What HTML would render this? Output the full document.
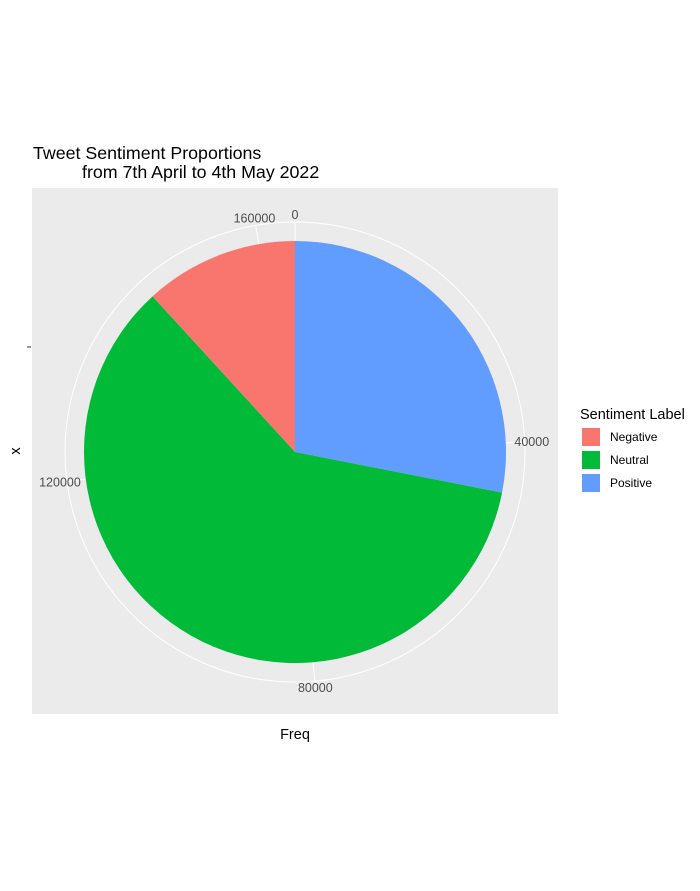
<!DOCTYPE html>
<html><head><meta charset="utf-8"><style>
body{margin:0;background:#fff;font-family:"Liberation Sans",Arial,sans-serif}
</style></head><body>
<svg width="700" height="886" xmlns="http://www.w3.org/2000/svg" font-family="Liberation Sans, Arial, sans-serif">
<text x="33" y="159" font-size="17.8" fill="#000">Tweet Sentiment Proportions</text>
<text x="82" y="178" font-size="17.8" fill="#000">from 7th April to 4th May 2022</text>
<rect x="32" y="188" width="526" height="526" fill="#ebebeb"/>
<g id="plot"></g>
<line x1="27" y1="347" x2="31" y2="347" stroke="#333" stroke-width="1"/>
<text x="20" y="451" font-size="14.5" text-anchor="middle" transform="rotate(-90 20 451)" fill="#000">x</text>
<text x="295" y="739" font-size="14.5" text-anchor="middle" fill="#000">Freq</text>
<g id="legend">
<text x="580" y="419" font-size="14.5" fill="#000">Sentiment Label</text>
</g>
</svg>
<script>
const categories=["Positive","Neutral","Negative"];
const values=[46200,98900,19400];
const colors=["#619cff","#00ba38","#f8766d"];
const ticks=[0,40000,80000,120000,160000];
const tickLabels=["0","40000","80000","120000","160000"];
const legendLabels=["Negative","Neutral","Positive"];
const legendColors=["#f8766d","#00ba38","#619cff"];
const NS="http://www.w3.org/2000/svg";
const cx=295,cy=452,R=211,RG=230,RL=237;
const total=values.reduce((a,b)=>a+b,0);
const ang=v=>v/total*2*Math.PI;
const pt=(a,r)=>[cx+r*Math.sin(a),cy-r*Math.cos(a)];
const g=document.getElementById('plot');
function mk(t,attrs){const e=document.createElementNS(NS,t);for(const k in attrs)e.setAttribute(k,attrs[k]);return e;}
const circ=mk('circle',{cx:cx,cy:cy,r:RG,fill:'none',stroke:'#fff','stroke-width':1});


g.appendChild(circ);
ticks.forEach((t,i)=>{
  const a=ang(t);const p=pt(a,RG);
  const l=mk('line',{x1:cx,y1:cy,x2:p[0],y2:p[1],stroke:'#fff','stroke-width':1});
  
  
  g.appendChild(l);
  const q=pt(a,RL);
  const tx=mk('text',{x:q[0],y:q[1]+4,'font-size':12.5,fill:'#4d4d4d','text-anchor':'middle'});
  tx.textContent=tickLabels[i];
  
  
  g.appendChild(tx);
});
let cum=0;
values.forEach((v,i)=>{
  const a0=ang(cum),a1=ang(cum+v);cum+=v;
  const p0=pt(a0,R),p1=pt(a1,R);
  const large=(a1-a0)>Math.PI?1:0;
  const path=mk('path',{d:`M${cx},${cy}L${p0[0]},${p0[1]}A${R},${R} 0 ${large} 1 ${p1[0]},${p1[1]}Z`,fill:colors[i]});
  
  
  g.appendChild(path);
});
const lg=document.getElementById('legend');
legendLabels.forEach((n,i)=>{
  const r=mk('rect',{x:582,y:428+i*23,width:18,height:18,fill:legendColors[i]});
  
  
  lg.appendChild(r);
  const t=mk('text',{x:610,y:441+i*23,'font-size':12,fill:'#000'});
  t.textContent=n;
  
  
  lg.appendChild(t);
});
</script>
</body></html>
